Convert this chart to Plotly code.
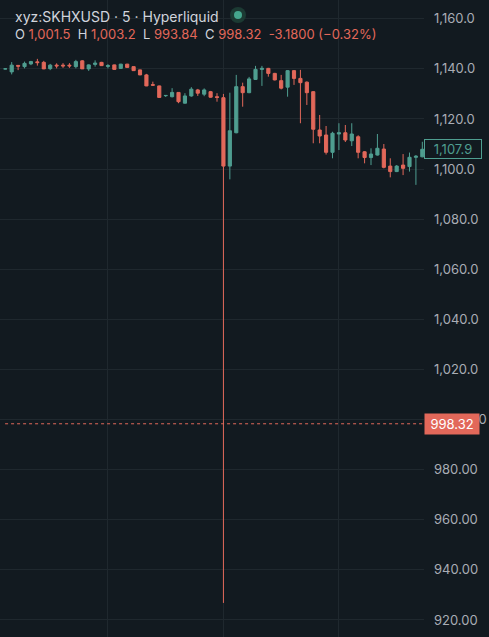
import plotly.graph_objects as go

# 5-minute candles, xyz:SKHXUSD on Hyperliquid
opens = [1140.0, 1138.8, 1141.4, 1140.9, 1142.0, 1142.8, 1142.6, 1140.1, 1141.5, 1141.5,
         1141.5, 1140.9, 1143.2, 1140.0, 1141.8, 1142.6, 1141.0, 1141.6, 1140.2, 1141.9,
         1140.9, 1139.6, 1137.6, 1133.7, 1133.2, 1129.3, 1128.9, 1130.6, 1126.3, 1129.2,
         1131.6, 1129.9, 1130.9, 1128.9, 1128.5, 1101.2, 1114.5, 1132.9, 1130.5, 1135.8,
         1139.8, 1140.2, 1138.2, 1135.3, 1132.7, 1139.3, 1136.2, 1134.7, 1130.9, 1115.6,
         1113.6, 1106.7, 1114.0, 1114.5, 1111.3, 1112.9, 1106.9, 1104.6, 1105.6, 1108.0,
         1101.2, 1099.0, 1101.6, 1101.0, 1104.7, 1104.9]
highs = [1140.2, 1142.7, 1141.5, 1142.9, 1143.2, 1144.0, 1143.2, 1142.0, 1142.2, 1142.3,
         1142.3, 1143.6, 1143.5, 1141.8, 1143.4, 1142.8, 1141.9, 1141.7, 1142.0, 1142.0,
         1141.0, 1139.7, 1138.0, 1134.9, 1133.3, 1129.5, 1132.3, 1130.7, 1130.3, 1132.7,
         1132.0, 1132.2, 1131.2, 1130.3, 1130.0, 1130.5, 1137.6, 1134.5, 1136.8, 1141.2,
         1141.2, 1140.4, 1138.4, 1137.6, 1139.5, 1139.5, 1139.6, 1135.0, 1131.1, 1121.6,
         1117.2, 1114.9, 1118.3, 1117.6, 1118.3, 1113.5, 1107.2, 1108.3, 1114.0, 1110.0,
         1104.3, 1101.6, 1106.0, 1106.6, 1105.6, 1110.9]
lows = [1139.8, 1137.8, 1139.5, 1140.2, 1141.5, 1141.3, 1139.9, 1139.5, 1140.2, 1140.4,
        1140.4, 1140.2, 1140.0, 1139.2, 1140.9, 1141.2, 1140.2, 1139.6, 1140.1, 1140.5,
        1139.2, 1137.5, 1133.1, 1133.2, 1128.5, 1128.8, 1128.6, 1126.3, 1126.2, 1128.9,
        1129.2, 1129.1, 1128.5, 1126.9, 926.8, 1095.9, 1114.3, 1124.9, 1130.3, 1135.6,
        1133.2, 1136.9, 1135.4, 1131.8, 1128.9, 1133.6, 1118.3, 1125.6, 1110.3, 1110.3,
        1105.8, 1104.3, 1107.6, 1110.8, 1109.2, 1104.3, 1102.3, 1101.6, 1105.4, 1100.3,
        1096.7, 1098.8, 1097.6, 1099.0, 1093.7, 1104.7]
closes = [1140.0, 1141.5, 1141.1, 1142.2, 1142.9, 1142.5, 1140.0, 1141.5, 1141.2, 1141.2,
          1141.2, 1142.9, 1140.0, 1141.6, 1142.3, 1141.3, 1141.3, 1139.8, 1141.9, 1140.6,
          1139.3, 1137.6, 1133.2, 1133.5, 1128.6, 1129.4, 1130.6, 1126.9, 1129.2, 1131.9,
          1130.3, 1131.6, 1128.7, 1128.6, 1101.2, 1115.3, 1132.9, 1130.5, 1136.0, 1139.8,
          1140.2, 1138.2, 1135.6, 1132.3, 1139.3, 1136.2, 1134.5, 1130.5, 1115.9, 1113.2,
          1106.7, 1114.3, 1114.5, 1111.6, 1114.0, 1106.7, 1104.6, 1106.0, 1108.3, 1100.7,
          1099.0, 1101.2, 1100.3, 1104.7, 1105.1, 1107.9]
bars = list(range(len(opens)))

price_ticks = [920, 940, 960, 980, 1000, 1020, 1040, 1060, 1080, 1100, 1120, 1140, 1160]
price_labels = ["920.00", "940.00", "960.00", "980.00", "1,000.00", "1,020.0", "1,040.0",
                "1,060.0", "1,080.0", "1,100.0", "1,120.0", "1,140.0", "1,160.0"]
time_grid = [16, 34, 52]

last_price = 1107.9
mark_price = 998.32
header = "xyz:SKHXUSD · 5 · Hyperliquid"
ohlc_keys = ["O", "H", "L", "C"]
ohlc_text = ["1,001.5", "1,003.2", "993.84", "998.32"]
change_text = "-3.1800 (−0.32%)"

BG = "#121a20"
GRID = "#1f282e"
UP = "#4f9e90"
DOWN = "#e2685a"
TXT = "#d1d4dc"
AXTXT = "#a9adb5"

W, H = 489, 637
R = 65
PW = W - R


def px(x):
    return x / PW


def py(y):
    return 1 - y / H


fig = go.Figure()
fig.add_trace(go.Candlestick(
    x=bars, open=opens, high=highs, low=lows, close=closes,
    increasing=dict(line=dict(color=UP, width=1), fillcolor=UP),
    decreasing=dict(line=dict(color=DOWN, width=1), fillcolor=DOWN),
    showlegend=False, hoverinfo="skip",
))

# dotted mark-price line
fig.add_shape(type="line", xref="paper", x0=0.012, x1=1, yref="y",
              y0=mark_price, y1=mark_price, line=dict(color=DOWN, width=1, dash="dot"))

# live dot next to the title
fig.add_shape(type="circle", xref="paper", yref="paper", xsizemode="pixel", ysizemode="pixel",
              xanchor=px(238), yanchor=py(15), x0=-8, x1=8, y0=-8, y1=8,
              fillcolor="#1c3a33", line=dict(width=0))
fig.add_shape(type="circle", xref="paper", yref="paper", xsizemode="pixel", ysizemode="pixel",
              xanchor=px(238), yanchor=py(15), x0=-4, x1=4, y0=-4, y1=4,
              fillcolor="#45a68d", line=dict(width=0))

parts = ["%s <span style='color:%s'>%s</span>" % (k, DOWN, v)
         for k, v in zip(ohlc_keys, ohlc_text)]
lbl = "  ".join(parts) + "  <span style='color:%s'>%s</span>" % (DOWN, change_text)

fig.add_annotation(text=header, xref="paper", yref="paper", x=px(13), y=py(16),
                   xanchor="left", yanchor="middle", showarrow=False,
                   font=dict(color=TXT, size=14, family="Inter"))
fig.add_annotation(text=lbl, xref="paper", yref="paper", x=px(13), y=py(34),
                   xanchor="left", yanchor="middle", showarrow=False,
                   font=dict(color=TXT, size=13, family="Inter"))

# price labels on the scale
fig.add_annotation(text="1,107.9", xref="paper", yref="y", x=1, y=last_price,
                   xanchor="left", yanchor="middle", showarrow=False,
                   bgcolor=BG, bordercolor=UP, borderwidth=1, borderpad=1,
                   width=54, font=dict(color=UP, size=13, family="Inter"))
fig.add_annotation(text="998.32", xref="paper", yref="y", x=1, y=mark_price,
                   xanchor="left", yanchor="middle", showarrow=False,
                   bgcolor=DOWN, borderpad=2, width=50,
                   font=dict(color="#ffffff", size=13, family="Inter"))

fig.update_layout(
    width=W, height=H,
    margin=dict(l=0, r=R, t=0, b=0),
    paper_bgcolor=BG, plot_bgcolor=BG,
    xaxis=dict(range=[-0.823, 65.26], rangeslider=dict(visible=False),
               tickvals=time_grid, showticklabels=False, showgrid=True,
               gridcolor=GRID, gridwidth=1, zeroline=False, showline=False,
               fixedrange=True),
    yaxis=dict(range=[913.2, 1167.5], side="right", tickvals=price_ticks,
               ticktext=price_labels, showgrid=True, gridcolor=GRID, gridwidth=1,
               zeroline=False, showline=False, ticks="", ticklabelstandoff=9,
               tickfont=dict(color=AXTXT, size=13, family="Inter"), fixedrange=True),
    font=dict(family="Inter"),
)

fig.write_html("out.html", config={"displayModeBar": False},
               post_script="document.body.style.margin='0';")
